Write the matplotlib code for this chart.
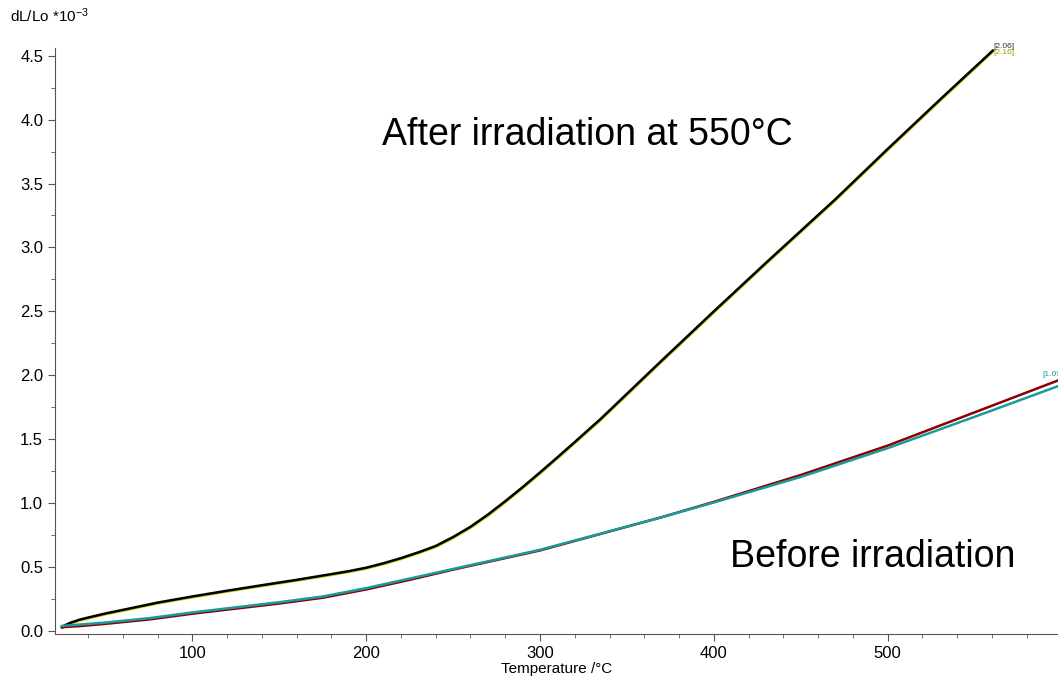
import matplotlib
matplotlib.use("Agg")
import matplotlib.pyplot as plt
import matplotlib.transforms as mtransforms
from matplotlib.ticker import MultipleLocator, FormatStrFormatter

plt.rcParams['font.family'] = ['Liberation Sans', 'DejaVu Sans']
plt.rcParams['mathtext.fontset'] = 'custom'
plt.rcParams['mathtext.rm'] = 'Liberation Sans'
plt.rcParams['mathtext.it'] = 'Liberation Sans'

# After irradiation (black / yellow)
t_after = [25, 27, 30, 35, 40, 50, 60, 80, 100, 120, 140, 160, 180, 190, 200, 210,
           220, 230, 240, 250, 260, 270, 280, 290, 300, 310, 320, 335, 350, 370,
           400, 430, 470, 500, 530, 560.5]
dl_after = [0.03, 0.047, 0.065, 0.088, 0.105, 0.137, 0.165, 0.222, 0.27, 0.315, 0.358,
            0.40, 0.445, 0.468, 0.495, 0.53, 0.57, 0.615, 0.665, 0.735, 0.815, 0.91,
            1.015, 1.125, 1.24, 1.358, 1.478, 1.66, 1.855, 2.115, 2.50, 2.88, 3.378,
            3.77, 4.155, 4.54]

# Before irradiation (red / teal)
t_before = [25, 35, 50, 75, 100, 125, 150, 175, 200, 225, 250, 275, 300, 335, 370,
            400, 450, 500, 550, 600]
dl_before_red = [0.03, 0.038, 0.056, 0.09, 0.135, 0.175, 0.215, 0.26, 0.325, 0.40,
                 0.48, 0.555, 0.63, 0.76, 0.89, 1.01, 1.22, 1.45, 1.71, 1.97]
dl_before_teal = [0.04, 0.05, 0.066, 0.10, 0.145, 0.185, 0.225, 0.27, 0.335, 0.41,
                  0.485, 0.56, 0.635, 0.762, 0.89, 1.005, 1.205, 1.43, 1.675, 1.925]

fig = plt.figure(figsize=(10.58, 6.78), dpi=100)
ax = fig.add_axes([55/1058, 44/678, 1 - 55/1058, (634-48)/678])

yel_tr = mtransforms.offset_copy(ax.transData, fig=fig, x=0.4, y=-0.7, units='points')
ax.plot(t_after, dl_after, color='#c8c800', lw=1.5, transform=yel_tr)
ax.plot(t_after, dl_after, color='black', lw=1.8)
ax.plot(t_before, dl_before_red, color='#8b0000', lw=1.8)
ax.plot(t_before, dl_before_teal, color='#1a9a9a', lw=1.8)

ax.set_xlim(21, 598)
ax.set_ylim(-0.0235, 4.56)
ax.xaxis.set_major_locator(MultipleLocator(100))
ax.xaxis.set_minor_locator(MultipleLocator(20))
ax.yaxis.set_major_locator(MultipleLocator(0.5))
ax.yaxis.set_minor_locator(MultipleLocator(0.25))
ax.yaxis.set_major_formatter(FormatStrFormatter('%.1f'))
ax.spines['top'].set_visible(False)
ax.spines['right'].set_visible(False)
for s in ('left', 'bottom'):
    ax.spines[s].set_color('#555555')
ax.tick_params(axis='both', which='both', direction='out', colors='#555555',
               labelcolor='black', labelsize=12)
ax.tick_params(which='major', length=5)
ax.tick_params(which='minor', length=3)

ax.set_xlabel('Temperature /°C', fontsize=11, labelpad=1)
fig.text(10/1058, 1 - 16/678, r'dL/Lo *10$^{\mathrm{-3}}$', fontsize=11, va='center', ha='left')

fig.text(587/1058, 1 - 135/678, 'After irradiation at 550°C', fontsize=27,
         ha='center', va='center')
fig.text(873/1058, 1 - 557/678, 'Before irradiation', fontsize=27,
         ha='center', va='center')

ax.text(561, 4.50, '[2.16]', fontsize=6, color='#a0a000', ha='left', va='bottom',
        clip_on=False)
ax.text(561, 4.545, '[2.06]', fontsize=6, color='#333333', ha='left', va='bottom',
        clip_on=False)
ax.text(589, 1.98, '[1.09]', fontsize=6, color='#1a9a9a', ha='left', va='bottom',
        clip_on=True)

fig.savefig('out.png', dpi=100)
